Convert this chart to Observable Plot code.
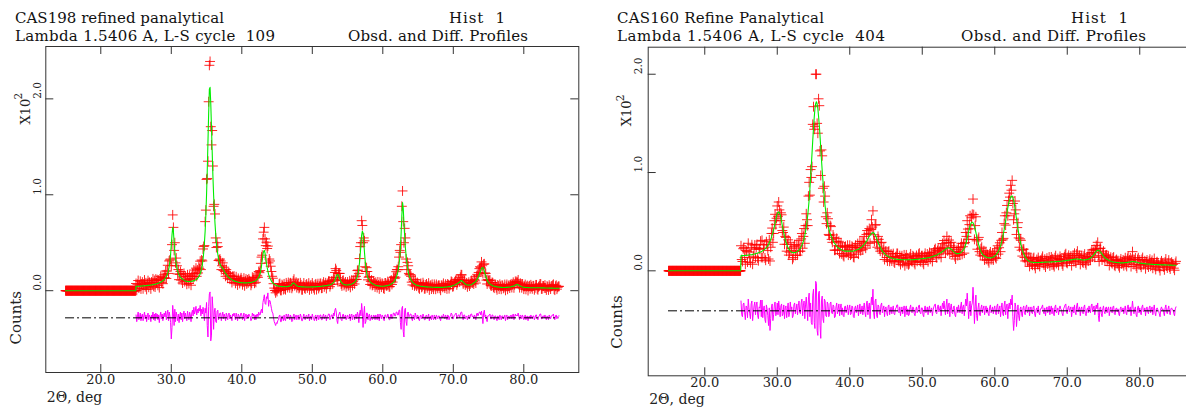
<!DOCTYPE html>
<html><head><meta charset="utf-8">
<script src="https://cdn.jsdelivr.net/npm/d3@7"></script>
<script src="https://cdn.jsdelivr.net/npm/@observablehq/plot@0.6"></script>
<style>
html,body{margin:0;padding:0;background:#fff;overflow:hidden}
#wrap{position:relative;width:1186px;height:411px;overflow:hidden;background:#fff}
#wrap > svg{position:absolute;top:0}
</style></head><body><div id="wrap"></div>
<script>
// ---------- data (2theta grid: 25.0 .. 85.0 step 0.1 ; counts in units of 10^2) ----------
const gridStart = 25.0, gridStep = 0.1;
const flatStart = 15.0, flatStep = 0.05;   // excluded region, drawn at zero
const xTickValues = [20, 30, 40, 50, 60, 70, 80];
const leftYTicks = [0, 1, 2];
const rightYTicks = [0, 1, 2];

const leftTitle1 = "CAS198 refined panalytical";
const leftTitle2 = "Lambda 1.5406 A, L-S cycle  109";
const rightTitle1 = "CAS160 Refine Panalytical";
const rightTitle2 = "Lambda 1.5406 A, L-S cycle  404";
const histLabel = "Hist  1";
const profLabel = "Obsd. and Diff. Profiles";
const xAxisLabel = "2Θ, deg";
const yAxisLabel = "Counts";
const yExpLabel = "X10";
const yExpPower = "2";

// calculated profile (green)
const leftCalc = [
.045,.045,.046,.046,.047,.047,.048,.048,.049,.049,
.050,.050,.051,.051,.052,.053,.054,.055,.056,.057,
.058,.059,.060,.062,.063,.065,.066,.068,.070,.072,
.074,.076,.079,.082,.085,.089,.093,.098,.103,.109,
.116,.125,.135,.148,.165,.185,.210,.250,.300,.380,
.480,.580,.660,.620,.500,.410,.330,.280,.240,.205,
.180,.165,.150,.140,.130,.125,.120,.115,.110,.105,
.100,.098,.097,.096,.095,.095,.095,.096,.097,.098,
.100,.102,.105,.107,.110,.115,.120,.127,.135,.146,
.160,.178,.200,.230,.270,.325,.400,.500,.620,.790,
1.00,1.25,1.55,1.85,2.10,2.12,1.95,1.70,1.45,1.20,
1.00,.840,.700,.590,.500,.430,.380,.335,.300,.280,
.260,.250,.240,.230,.220,.205,.190,.180,.170,.160,
.150,.142,.135,.130,.125,.120,.115,.110,.105,.102,
.100,.097,.095,.092,.090,.088,.087,.086,.085,.084,
.083,.082,.082,.081,.081,.081,.081,.081,.082,.082,
.083,.084,.085,.086,.088,.090,.092,.095,.098,.102,
.107,.113,.120,.130,.140,.158,.180,.215,.260,.320,
.380,.410,.420,.390,.330,.285,.240,.205,.170,.150,
.130,.115,.100,.090,.080,.073,.067,.062,.058,.055,
.052,.050,.048,.047,.045,.044,.043,.043,.042,.042,
.041,.041,.041,.041,.042,.043,.045,.047,.050,.052,
.055,.065,.075,.080,.080,.072,.065,.058,.052,.049,
.046,.044,.043,.042,.041,.040,.040,.040,.040,.039,
.039,.039,.039,.039,.039,.039,.039,.039,.040,.040,
.040,.040,.040,.040,.041,.041,.042,.042,.043,.043,
.044,.044,.045,.046,.047,.048,.049,.050,.051,.052,
.053,.054,.056,.058,.060,.062,.065,.068,.072,.078,
.085,.095,.110,.130,.150,.165,.170,.160,.140,.120,
.100,.090,.080,.074,.068,.065,.062,.061,.060,.060,
.060,.061,.062,.063,.065,.067,.070,.074,.078,.083,
.090,.098,.110,.127,.150,.185,.230,.295,.380,.480,
.580,.620,.600,.510,.400,.310,.240,.190,.150,.133,
.120,.107,.095,.087,.080,.075,.070,.066,.062,.059,
.057,.055,.053,.051,.050,.049,.048,.047,.047,.047,
.047,.047,.048,.049,.050,.051,.053,.055,.057,.060,
.063,.066,.070,.075,.080,.087,.095,.106,.120,.138,
.160,.188,.220,.270,.340,.450,.600,.780,.920,.860,
.700,.570,.450,.370,.300,.245,.200,.170,.145,.127,
.110,.099,.090,.082,.075,.070,.065,.061,.058,.055,
.053,.051,.049,.047,.046,.045,.044,.043,.042,.041,
.041,.040,.040,.040,.039,.039,.038,.038,.037,.037,
.036,.036,.036,.036,.035,.035,.035,.035,.035,.035,
.035,.035,.035,.035,.035,.035,.036,.036,.037,.037,
.038,.039,.040,.041,.042,.043,.045,.047,.050,.052,
.055,.057,.060,.063,.067,.071,.075,.080,.085,.092,
.100,.106,.105,.098,.090,.082,.075,.070,.065,.062,
.060,.059,.058,.059,.060,.062,.065,.069,.075,.080,
.085,.092,.100,.110,.120,.135,.150,.170,.190,.210,
.230,.240,.240,.225,.200,.175,.150,.130,.110,.097,
.085,.077,.070,.065,.060,.056,.052,.049,.047,.045,
.043,.041,.040,.039,.038,.037,.036,.035,.035,.035,
.034,.034,.034,.034,.034,.035,.035,.035,.036,.037,
.038,.039,.041,.043,.045,.047,.050,.053,.057,.061,
.065,.066,.062,.057,.052,.048,.044,.041,.039,.037,
.036,.035,.034,.034,.033,.033,.032,.032,.031,.031,
.031,.031,.030,.030,.030,.030,.030,.030,.030,.030,
.030,.030,.030,.030,.029,.029,.029,.029,.029,.029,
.028,.028,.028,.028,.028,.028,.027,.027,.027,.027,
.027,.027,.026,.026,.026,.026,.026,.026,.025,.025,
.025];

// difference profile, obs - calc (magenta)
const leftDiff = [
.03,-.04,.02,.06,-.02,.01,.05,-.03,.02,.04,
-.03,.02,.06,-.01,.03,-.04,.02,.05,-.02,.03,
.01,-.04,.03,.00,.06,-.02,.04,-.03,.05,.01,
.04,-.02,.03,-.05,.02,.06,-.01,.04,-.03,.02,
.05,.01,.07,-.02,.04,.08,-.03,.06,.02,-.05,
-.22,-.10,.13,.04,-.08,.09,-.04,.06,.02,-.03,
.04,-.05,.02,.06,-.02,.05,-.04,.03,.07,-.01,
.05,.01,-.03,.07,.02,-.02,.06,.03,-.04,.05,
.08,.02,.11,.04,.07,.12,.03,.09,.05,.10,
.07,.13,.02,.09,.04,.11,.06,-.03,.10,.05,
.16,-.08,-.20,.12,.25,.27,-.24,-.18,.22,.10,
-.12,.06,.10,-.04,-.05,.07,.08,-.02,.02,.05,
.05,-.03,.02,.06,-.01,.04,.01,-.03,.05,.02,
-.02,.04,.05,-.01,.03,.00,-.03,.04,.02,.05,
.02,-.02,.05,.01,-.03,.04,.02,-.01,.03,.05,
.03,-.02,.01,.05,-.03,.02,.04,-.01,.03,.00,
.04,.02,.01,-.03,-.01,.05,.02,.04,-.02,.03,
-.02,.03,.04,.01,.06,.03,.03,.07,.09,.05,
.16,.20,.24,.15,.14,.22,.20,.26,.12,.18,
.18,.14,.10,.06,.05,.00,-.04,-.06,-.08,-.05,
-.06,-.03,-.02,.02,.03,-.04,-.04,.02,.01,-.03,
.03,-.02,-.03,.04,.02,-.01,.04,.01,-.02,.03,
.01,-.04,-.03,.02,.04,-.02,.00,.03,-.02,.01,
.03,-.02,-.01,.04,.02,-.03,-.03,.01,.04,-.01,
-.02,.02,.03,-.01,.01,.04,-.03,.01,.02,-.02,
.04,.01,-.01,-.03,.02,.03,-.03,.01,.03,-.02,
.00,.03,.03,-.02,-.02,.02,.04,-.01,.01,.03,
-.03,.01,.02,.04,.04,-.02,.00,.03,.03,-.01,
.05,.02,.08,.10,.06,-.03,-.06,.02,.04,.06,
.02,-.02,-.03,.03,.04,-.01,.01,.03,-.02,.01,
.03,-.01,.00,.04,-.03,.02,.04,-.02,.02,.03,
-.02,.02,.04,-.01,.06,.03,-.05,.04,.08,.02,
.15,.06,-.10,.04,.12,-.06,-.04,.05,.05,-.02,
.02,.04,-.03,.01,.03,-.02,-.01,.03,.02,-.02,
.03,.01,-.02,.04,.01,-.03,.04,.02,-.01,.03,
.02,-.02,-.03,.03,.03,.00,.00,.04,.02,-.02,
-.02,.03,.04,-.01,.01,.05,.05,.02,.02,.06,
.06,.03,.03,.08,.08,-.05,-.12,.10,.12,-.14,
-.20,.08,.10,-.04,-.08,.05,.06,.01,.02,.04,
.04,-.01,-.03,.03,.02,-.02,.05,.02,-.01,.03,
.02,-.02,-.03,.02,.03,-.01,.00,.04,.02,-.02,
-.02,.02,.03,-.01,.01,.04,-.03,.01,.02,-.02,
.03,.00,-.02,.03,.01,-.02,.03,.01,-.01,.02,
.02,-.01,-.03,.02,.02,.00,.04,.01,-.01,.03,
.01,-.02,.03,.02,-.02,.01,.02,.05,.04,-.01,
-.01,.02,.03,.04,.05,-.01,.01,.03,.03,.00,
.04,.06,.06,.01,-.02,.03,.03,-.01,.01,.02,
-.02,.01,.03,-.01,.01,.04,.04,.01,.02,-.01,
.03,.01,-.02,.04,.05,.02,.04,.06,.06,.03,
.07,.02,-.06,.05,.08,.01,.03,-.02,-.04,.02,
.02,.03,.04,-.01,-.01,.03,.03,-.01,-.02,.02,
.02,-.01,-.03,.02,.01,-.02,.03,.01,-.02,.02,
.02,-.01,.00,.03,-.03,.01,.03,-.02,.01,.02,
-.01,.02,.03,-.01,.02,.04,-.02,.01,.04,.02,
.03,.02,.05,.01,-.02,.03,.02,-.01,.03,.01,
-.02,.01,.03,-.02,.01,.02,-.03,.01,.02,-.01,
.03,.01,-.01,.02,.02,-.02,.00,.03,.03,-.01,
-.02,.01,.02,.04,.04,-.01,-.01,.02,.02,.00,
.03,.00,-.02,.02,.01,-.02,.03,.01,-.01,.02,
.02,.03,.04,-.01,-.02,.02,.03,-.01,.01,.02,
.02];

const rightCalc = [
.155,.155,.155,.155,.156,.156,.157,.157,.158,.159,
.160,.161,.162,.163,.164,.165,.167,.168,.170,.172,
.174,.176,.178,.180,.183,.186,.189,.192,.196,.200,
.205,.210,.215,.221,.228,.236,.245,.256,.270,.285,
.300,.320,.340,.365,.390,.420,.450,.485,.520,.555,
.580,.595,.600,.590,.570,.540,.500,.460,.420,.385,
.350,.320,.290,.270,.250,.235,.220,.210,.200,.195,
.190,.187,.185,.185,.185,.187,.190,.195,.200,.205,
.210,.220,.230,.245,.260,.280,.300,.330,.360,.400,
.440,.500,.560,.640,.720,.830,.950,1.07,1.20,1.33,
1.45,1.56,1.65,1.70,1.72,1.70,1.65,1.57,1.48,1.37,
1.25,1.13,1.02,.920,.820,.740,.660,.600,.540,.500,
.460,.430,.400,.380,.360,.340,.320,.305,.290,.280,
.270,.260,.250,.242,.235,.230,.225,.220,.215,.212,
.210,.207,.205,.202,.200,.200,.200,.200,.200,.200,
.200,.200,.200,.200,.200,.202,.205,.207,.210,.212,
.215,.217,.220,.225,.230,.235,.240,.247,.255,.262,
.270,.280,.290,.300,.310,.325,.340,.350,.360,.370,
.380,.385,.390,.387,.380,.365,.350,.330,.310,.290,
.270,.255,.240,.225,.210,.200,.190,.182,.175,.167,
.160,.155,.150,.145,.140,.137,.135,.132,.130,.127,
.125,.122,.120,.119,.118,.117,.116,.115,.115,.114,
.114,.113,.113,.112,.112,.112,.112,.112,.112,.112,
.112,.112,.112,.112,.112,.112,.113,.113,.114,.114,
.115,.115,.116,.117,.118,.119,.120,.121,.122,.123,
.124,.125,.126,.127,.128,.129,.130,.131,.133,.134,
.136,.138,.140,.142,.145,.147,.150,.153,.156,.159,
.162,.166,.170,.174,.178,.182,.187,.192,.197,.202,
.208,.214,.220,.225,.230,.233,.235,.233,.230,.225,
.220,.212,.205,.197,.190,.185,.180,.177,.175,.175,
.175,.177,.180,.185,.190,.197,.205,.217,.230,.248,
.270,.300,.330,.365,.400,.430,.460,.478,.490,.495,
.490,.472,.450,.420,.390,.355,.320,.290,.260,.235,
.210,.195,.180,.170,.160,.155,.150,.145,.140,.137,
.135,.133,.132,.132,.132,.133,.135,.137,.140,.145,
.150,.157,.165,.175,.185,.200,.215,.235,.255,.280,
.310,.345,.380,.420,.460,.505,.550,.595,.640,.675,
.710,.730,.750,.760,.760,.745,.720,.680,.630,.580,
.530,.480,.430,.385,.340,.305,.270,.240,.210,.190,
.170,.155,.140,.130,.120,.112,.105,.100,.095,.092,
.090,.088,.087,.086,.085,.085,.085,.085,.085,.085,
.085,.085,.085,.085,.086,.086,.087,.087,.088,.088,
.088,.088,.089,.089,.090,.090,.090,.090,.091,.091,
.092,.092,.093,.093,.094,.094,.095,.095,.096,.096,
.097,.097,.098,.099,.100,.101,.102,.103,.104,.105,
.106,.107,.108,.109,.110,.111,.113,.114,.115,.116,
.118,.119,.120,.120,.120,.119,.118,.116,.115,.113,
.112,.111,.110,.110,.110,.111,.112,.114,.116,.119,
.122,.126,.130,.136,.142,.150,.158,.168,.178,.188,
.198,.205,.210,.208,.205,.198,.190,.180,.170,.160,
.150,.142,.135,.128,.122,.117,.112,.108,.104,.101,
.098,.095,.093,.091,.090,.088,.087,.086,.085,.084,
.083,.082,.082,.081,.081,.081,.081,.081,.082,.082,
.083,.084,.085,.086,.087,.088,.090,.091,.093,.094,
.095,.095,.094,.093,.091,.089,.087,.085,.083,.081,
.080,.078,.077,.076,.075,.074,.073,.072,.071,.070,
.070,.069,.069,.068,.068,.067,.067,.066,.066,.065,
.065,.065,.064,.064,.063,.063,.063,.062,.062,.062,
.061,.061,.061,.060,.060,.060,.060,.059,.059,.059,
.059,.058,.058,.058,.058,.057,.057,.057,.056,.056,
.056];

const rightDiff = [
.10,-.04,-.06,.07,.08,-.02,-.09,.05,.04,-.07,
.12,.03,-.03,-.08,.07,.10,-.10,-.02,.05,.09,
-.04,.06,.09,-.05,-.08,.04,.03,.11,-.06,.11,
-.07,.02,.05,-.09,-.12,.06,.02,-.05,-.15,.03,
-.20,-.08,.04,.07,-.10,-.04,.06,.09,-.05,-.02,
.08,-.04,.10,.03,-.06,.05,.07,-.05,-.03,.06,
-.08,.03,.05,-.07,.02,.08,-.06,-.02,.09,.01,
.04,-.07,-.05,.06,.08,-.03,.01,.07,-.04,.05,
.10,-.02,-.03,.08,.12,-.05,.05,.10,-.08,.06,
.14,.02,-.10,.12,.18,-.06,.08,-.12,-.14,.16,
.22,-.12,-.18,.30,.28,-.20,-.25,.18,.20,-.15,
-.28,.10,.15,-.08,-.12,.12,.10,-.05,-.06,.09,
.07,-.06,-.04,.08,.09,-.02,-.03,.06,.05,-.07,
-.06,.04,.08,-.03,.02,.07,-.05,.03,.07,-.04,
.03,-.05,-.06,.04,.05,-.02,.01,.06,-.04,.02,
.06,-.04,-.03,.05,.04,-.06,-.07,.03,.05,-.02,
.02,.06,-.05,.01,.07,-.03,.00,.05,-.04,.03,
.08,-.02,-.06,.07,.10,-.04,.04,.08,-.08,.05,
.14,.06,.22,-.02,-.08,.10,.12,-.04,-.07,.06,
.05,-.03,-.04,.06,.08,-.02,.02,.05,-.06,.03,
.04,-.02,-.05,.05,.06,-.04,.00,.04,-.03,.02,
.05,-.03,-.04,.02,.03,.06,.06,-.01,-.02,.04,
-.05,.02,.04,-.03,.01,.05,-.06,.02,.05,-.04,
.02,-.05,-.04,.03,.06,-.01,-.02,.04,.03,-.03,
-.05,.01,.04,-.02,.01,.05,.06,-.02,-.03,.03,
.03,-.04,-.06,.02,.05,-.02,.00,.04,-.04,.02,
.05,-.02,.01,.03,-.05,.01,.04,.06,.07,-.02,
-.03,.04,.06,-.01,.02,.05,-.05,.03,.08,.02,
.10,.02,-.04,.06,.12,-.03,.05,.08,-.06,.03,
.07,-.02,-.03,.04,.05,-.04,-.06,.02,.04,-.02,
.06,.01,-.02,.05,.09,-.03,.04,.06,-.05,.04,
.12,.05,.18,.06,-.08,.04,.10,-.05,.05,.08,
.24,.10,-.13,.04,.16,-.05,-.10,.03,.08,-.04,
-.05,.03,.06,-.02,.02,.05,-.04,.01,.05,-.02,
.03,-.03,-.05,.04,.06,-.02,.01,.04,-.03,.02,
.05,-.02,-.04,.05,.07,-.03,.02,.05,-.06,.03,
.08,-.03,-.05,.06,.10,-.04,.04,.07,-.08,.04,
.08,.02,.12,.06,.16,-.06,-.20,-.10,.08,.04,
-.16,-.04,.06,-.05,-.10,.02,.04,-.03,-.06,.03,
.05,-.02,-.04,.04,.06,-.02,.00,.04,-.05,.02,
.04,-.02,-.03,.04,.05,-.03,-.06,.01,.03,-.02,
.05,-.02,-.04,.02,.02,.04,.06,-.01,-.03,.03,
-.05,.01,.04,-.02,.01,.05,-.04,.02,.05,-.03,
.03,-.03,-.05,.04,.06,-.02,.00,.03,-.04,.02,
.05,.02,.01,-.03,-.05,.02,.04,.06,.07,-.02,
-.03,.03,.05,-.01,.02,.04,-.06,.01,.04,-.02,
.06,-.02,-.04,.05,.08,-.01,.02,.04,-.05,.02,
.04,-.02,-.03,.04,.06,-.03,-.05,.01,.03,-.02,
.05,.01,-.02,.05,.07,-.01,.03,.05,-.04,.02,
.06,.02,.08,-.05,-.11,.03,.04,-.03,-.06,.02,
.05,-.01,-.03,.03,.04,-.02,.02,.04,-.05,.01,
.04,-.01,-.02,.04,.05,-.03,-.04,.02,.03,-.01,
.02,-.03,-.05,.02,.04,-.01,.01,.03,-.03,.01,
.05,-.02,-.04,.04,.06,-.01,.02,.04,-.05,.02,
.10,.02,-.03,.02,.04,-.04,-.06,.03,.05,-.02,
.03,-.02,-.04,.04,.06,-.01,.00,.03,-.05,.02,
.04,-.01,-.03,.03,.05,-.02,.02,.04,-.04,.01,
.06,-.02,-.05,.02,.03,.01,.00,-.03,-.06,.02,
.04,.01,.02,-.02,-.05,.03,.06,-.01,-.03,.02,
.05,-.02,-.04,.02,.03,.01,.01,-.03,-.05,.02,
.04];

[leftCalc, leftDiff, rightCalc, rightDiff].forEach((a, k) => {
  if (a.length !== 601) throw new Error("series " + k + " has " + a.length + " values");
});

// ---------- drawing ----------
const FONT = "DejaVu Serif";
const wrap = document.getElementById("wrap");

function panel(cfg) {
  const xs = cfg.calc.map((_, i) => +(gridStart + i * gridStep).toFixed(2));
  const flatX = d3.range(Math.round((gridStart - flatStart) / flatStep)).map(i => +(flatStart + i * flatStep).toFixed(2));
  const obs = flatX.map(x => ({x, y: 0})).concat(xs.map((x, i) => ({x, y: cfg.calc[i] + cfg.diff[i]})));
  const calc = flatX.map(x => ({x, y: 0})).concat(xs.map((x, i) => ({x, y: cfg.calc[i]})));
  const diff = xs.map((x, i) => ({x, y: cfg.diff[i] + cfg.diffOffset}));
  const innerW = cfg.width - cfg.ml - cfg.mr;
  const innerH = cfg.height - cfg.mt - cfg.mb;
  const tk = 8;
  const svg = Plot.plot({
    width: cfg.width, height: cfg.height,
    marginLeft: cfg.ml, marginRight: cfg.mr, marginTop: cfg.mt, marginBottom: cfg.mb,
    style: "max-width:none;background:transparent;overflow:visible;",
    x: {domain: cfg.xDomain, axis: null},
    y: {domain: cfg.yDomain, axis: null},
    marks: [
      Plot.frame({stroke: "#333", strokeWidth: 1}),
      Plot.tickX(xTickValues, {x: d => d, insetTop: innerH - tk, stroke: "#333"}),
      Plot.tickX(xTickValues, {x: d => d, insetBottom: innerH - tk, stroke: "#333"}),
      Plot.tickY(cfg.yTicks, {y: d => d, insetRight: innerW - tk, stroke: "#333"}),
      Plot.tickY(cfg.yTicks, {y: d => d, insetLeft: innerW - tk, stroke: "#333"}),
      Plot.text(xTickValues, {x: d => d, frameAnchor: "bottom", dy: cfg.xLabelDy, text: d => d.toFixed(1), fontFamily: FONT, fontSize: 13, fill: "#222"}),
      Plot.text(cfg.yTicks, {y: d => d, frameAnchor: "left", dx: cfg.yLabelDx, rotate: -90, text: d => d.toFixed(1), fontFamily: FONT, fontSize: 10.5, fill: "#222"}),
      Plot.text([xAxisLabel], {frameAnchor: "bottom-left", dy: cfg.xTitleDy, dx: 1, textAnchor: "start", text: d => d, fontFamily: FONT, fontSize: 14, fill: "#222"}),
      Plot.text([yAxisLabel], {frameAnchor: "bottom-left", dx: cfg.yTitleDx, dy: cfg.countsDy, rotate: -90, text: d => d, fontFamily: FONT, fontSize: 15, fill: "#222"}),
      Plot.text([yExpLabel], {frameAnchor: "top-left", dx: cfg.yTitleDx, dy: cfg.expDy, rotate: -90, text: d => d, fontFamily: FONT, fontSize: 13, fill: "#222"}),
      Plot.text([yExpPower], {frameAnchor: "top-left", dx: cfg.yTitleDx - 6, dy: cfg.expDy - 25, rotate: -90, text: d => d, fontFamily: FONT, fontSize: 10.5, fill: "#222"}),
      Plot.dot(obs, {x: "x", y: "y", symbol: "plus", r: 3.3, stroke: "#ff0000", strokeWidth: 1, strokeOpacity: 0.85}),
      Plot.line(calc, {x: "x", y: "y", stroke: "#00ee00", strokeWidth: 1.1}),
      Plot.line(diff, {x: "x", y: "y", stroke: "#ff00ff", strokeWidth: 1}),
      Plot.ruleY([cfg.diffOffset], {x1: flatStart, x2: xs[xs.length - 1], stroke: "#000", strokeWidth: 1, strokeDasharray: "9,3,2,3"})
    ]
  });
  svg.style.left = cfg.left + "px";
  wrap.appendChild(svg);
}

panel({
  left: 0, width: 600, height: 411, ml: 45.3, mr: 21.7, mt: 46, mb: 39,
  xDomain: [12.2, 87.8], yDomain: [-0.853, 2.546], yTicks: leftYTicks,
  calc: leftCalc, diff: leftDiff, diffOffset: -0.283,
  xLabelDy: 11, yLabelDx: -8, xTitleDy: 29, yTitleDx: -25, countsDy: -28, expDy: 78
});
panel({
  left: 600, width: 600, height: 411, ml: 47.7, mr: 4.2, mt: 46.7, mb: 35.7,
  xDomain: [12.2, 87.8], yDomain: [-1.068, 2.275], yTicks: rightYTicks,
  calc: rightCalc, diff: rightDiff, diffOffset: -0.407,
  xLabelDy: 11.4, yLabelDx: -9.5, xTitleDy: 28, yTitleDx: -26, countsDy: -27, expDy: 79
});

// ---------- header texts ----------
const headers = [
  {t: leftTitle1, x: 15, y: 23, w: 209},
  {t: histLabel, x: 449, y: 23, w: 56},
  {t: leftTitle2, x: 15, y: 41, w: 260},
  {t: profLabel, x: 348, y: 41, w: 180},
  {t: rightTitle1, x: 617, y: 23, w: 207},
  {t: histLabel, x: 1071, y: 23, w: 57},
  {t: rightTitle2, x: 617, y: 41, w: 268},
  {t: profLabel, x: 961, y: 41, w: 185}
];
const hs = d3.create("svg").attr("width", 1186).attr("height", 411)
  .style("left", "0px").style("pointer-events", "none");
hs.selectAll("text").data(headers).join("text")
  .attr("x", d => d.x).attr("y", d => d.y)
  .attr("textLength", d => d.w).attr("lengthAdjust", "spacing")
  .style("white-space", "pre")
  .attr("font-family", FONT).attr("font-size", 15).attr("fill", "#111")
  .text(d => d.t);
wrap.appendChild(hs.node());
</script></body></html>
